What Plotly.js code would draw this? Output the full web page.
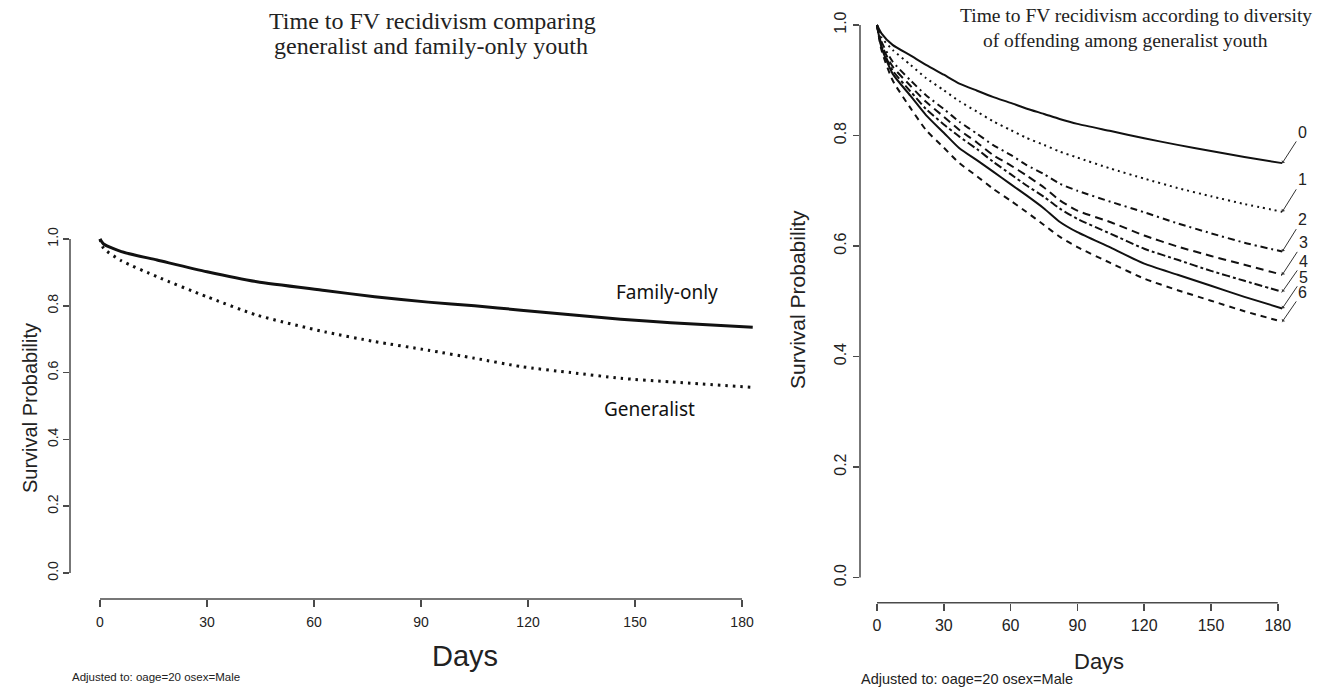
<!DOCTYPE html>
<html><head><meta charset="utf-8">
<script src="https://cdn.plot.ly/plotly-3.0.1.min.js"></script>
<style>html,body{margin:0;padding:0;background:#fff}</style>
</head><body><div id="chart" style="width:1317px;height:687px"></div>
<script>
// ---- Data ----
const leftDays   = [0, 1, 6, 16, 30, 44, 63, 77, 92, 105, 118, 132, 146, 160, 183];
const familyOnly = [1.0, 0.985, 0.962, 0.937, 0.902, 0.872, 0.846, 0.827, 0.811, 0.800, 0.787, 0.773, 0.760, 0.749, 0.736];
const generalist = [1.0, 0.972, 0.935, 0.887, 0.827, 0.772, 0.722, 0.693, 0.667, 0.643, 0.618, 0.600, 0.583, 0.572, 0.556];

const rightDays  = [0, 2, 7, 15, 22, 30, 37, 45, 52, 60, 67, 75, 82, 90, 105, 120, 135, 150, 165, 182];
const diversity0 = [1.0, 0.985, 0.964, 0.945, 0.928, 0.910, 0.894, 0.881, 0.870, 0.859, 0.849, 0.839, 0.830, 0.821, 0.808, 0.795, 0.783, 0.772, 0.761, 0.750];
const diversity1 = [1.0, 0.978, 0.955, 0.928, 0.904, 0.882, 0.862, 0.843, 0.826, 0.810, 0.796, 0.783, 0.771, 0.760, 0.740, 0.722, 0.705, 0.690, 0.676, 0.662];
const diversity2 = [1.0, 0.970, 0.934, 0.900, 0.873, 0.848, 0.825, 0.803, 0.783, 0.765, 0.747, 0.730, 0.713, 0.700, 0.680, 0.661, 0.641, 0.623, 0.606, 0.590];
const diversity3 = [1.0, 0.965, 0.925, 0.890, 0.861, 0.834, 0.810, 0.787, 0.765, 0.746, 0.728, 0.706, 0.683, 0.664, 0.643, 0.619, 0.599, 0.582, 0.566, 0.548];
const diversity4 = [1.0, 0.962, 0.918, 0.880, 0.848, 0.820, 0.798, 0.775, 0.753, 0.730, 0.710, 0.689, 0.668, 0.649, 0.622, 0.595, 0.575, 0.555, 0.537, 0.517];
const diversity5 = [1.0, 0.960, 0.912, 0.872, 0.837, 0.805, 0.777, 0.755, 0.735, 0.712, 0.692, 0.668, 0.644, 0.625, 0.597, 0.568, 0.548, 0.528, 0.508, 0.487];
const diversity6 = [1.0, 0.955, 0.900, 0.850, 0.810, 0.778, 0.750, 0.726, 0.704, 0.682, 0.662, 0.638, 0.617, 0.598, 0.569, 0.541, 0.520, 0.501, 0.482, 0.463];
const diversityLabels = ['0', '1', '2', '3', '4', '5', '6'];

const xTicks = [0, 30, 60, 90, 120, 150, 180];
const yTicks = [0, 0.2, 0.4, 0.6, 0.8, 1.0];
const yTickText = ['0.0', '0.2', '0.4', '0.6', '0.8', '1.0'];

// ---- Layout helpers ----
const W = 1317, H = 687;
const px = v => v / W;
const py = v => 1 - v / H;
const INK = '#111';
const AX = '#4a4a4a';
const SANS = '"Liberation Sans", Arial, sans-serif';
const SERIF = '"Liberation Serif", "Times New Roman", serif';

const diversitySeries = [diversity0, diversity1, diversity2, diversity3, diversity4, diversity5, diversity6];
const diversityDash = ['solid', '2px,4px', '7px,4px,2px,4px', '8px,5px', '8px,3px,3px,3px', 'solid', '6px,5px'];
const labelOffsets = [[20, -31], [20, -32], [20, -32], [21, -32], [21, -30], [21, -31], [20, -29]];

const traces = [
  {x: leftDays, y: familyOnly, xaxis: 'x', yaxis: 'y', mode: 'lines', name: 'Family-only',
   line: {color: INK, width: 3, shape: 'spline', smoothing: 0.6}},
  {x: leftDays, y: generalist, xaxis: 'x', yaxis: 'y', mode: 'lines', name: 'Generalist',
   line: {color: INK, width: 3, dash: '2.5px,5px', shape: 'spline', smoothing: 0.6}}
];
diversitySeries.forEach((s, i) => {
  traces.push({x: rightDays, y: s, xaxis: 'x2', yaxis: 'y2', mode: 'lines', name: diversityLabels[i],
    line: {color: INK, width: 2, dash: diversityDash[i], shape: 'spline', smoothing: 0.6}});
});

function xAxis(domain, range, fontSize, standoff) {
  return {domain, range, showline: false, zeroline: false, showgrid: false,
    ticks: 'outside', ticklen: 7, tickwidth: 1.5, tickcolor: AX,
    tickvals: xTicks, ticktext: xTicks.map(String),
    tickfont: {family: SANS, size: fontSize, color: '#222'}, ticklabelstandoff: standoff,
    fixedrange: true};
}
function yAxis(domain, range, fontSize, standoff) {
  return {domain, range, showline: false, zeroline: false, showgrid: false,
    ticks: 'outside', ticklen: 6, tickwidth: 1.5, tickcolor: AX,
    tickvals: yTicks, ticktext: yTickText, tickangle: -90,
    tickfont: {family: SANS, size: fontSize, color: '#222'}, ticklabelstandoff: standoff,
    fixedrange: true};
}

function paperText(text, x, y, size, family, extra) {
  return Object.assign({text, x: px(x), y: py(y), xref: 'paper', yref: 'paper', showarrow: false,
    xanchor: 'center', yanchor: 'middle', font: {family, size, color: '#222'}}, extra || {});
}

const annotations = [
  paperText('Time to FV recidivism comparing', 432, 21, 24, SERIF),
  paperText('generalist and family-only youth', 431, 46, 24, SERIF),
  paperText('Time to FV recidivism according to diversity', 1136, 16, 19.5, SERIF),
  paperText('of offending among generalist youth', 1125, 41, 19.5, SERIF),
  paperText('Survival Probability', 30, 408, 20, SANS, {textangle: -90}),
  paperText('Survival Probability', 797, 300, 21, SANS, {textangle: -90}),
  paperText('Days', 465, 656, 29, SANS),
  paperText('Days', 1099, 661, 22, SANS),
  paperText('Adjusted to: oage=20 osex=Male', 70, 677, 11.5, SANS, {xanchor: 'left'}),
  paperText('Adjusted to: oage=20 osex=Male', 859, 679, 14.5, SANS, {xanchor: 'left'}),
  {text: 'Family-only', x: 183, y: familyOnly[familyOnly.length - 1], xref: 'x', yref: 'y', showarrow: false,
   xanchor: 'center', yanchor: 'middle',
   xshift: -86, yshift: 35, font: {family: '"Noto Sans", sans-serif', size: 19, color: '#111'}},
  {text: 'Generalist', x: 183, y: generalist[generalist.length - 1], xref: 'x', yref: 'y', showarrow: false,
   xanchor: 'center', yanchor: 'middle',
   xshift: -103, yshift: -22, font: {family: '"Noto Sans", sans-serif', size: 19, color: '#111'}}
];
diversitySeries.forEach((s, i) => {
  annotations.push({text: diversityLabels[i], x: rightDays[rightDays.length - 1], y: s[s.length - 1],
    xref: 'x2', yref: 'y2', showarrow: true, ax: labelOffsets[i][0], ay: labelOffsets[i][1],
    arrowhead: 1, arrowsize: 0.7, arrowwidth: 1, arrowcolor: '#333', standoff: 0, startstandoff: 0,
    font: {family: SANS, size: 16, color: '#222'}});
});

const axLine = {color: AX, width: 1.5};
const shapes = [
  {type: 'line', xref: 'x', yref: 'y domain', x0: 0, x1: 180, y0: 0, y1: 0, line: axLine},
  {type: 'line', xref: 'x domain', yref: 'y', x0: 0, x1: 0, y0: 0, y1: 1, line: axLine},
  {type: 'line', xref: 'x2', yref: 'y2 domain', x0: 0, x1: 180, y0: 0, y1: 0, line: axLine},
  {type: 'line', xref: 'x2 domain', yref: 'y2', x0: 0, x1: 0, y0: 0, y1: 1, line: axLine}
];

const layout = {
  width: W, height: H, margin: {l: 0, r: 0, t: 0, b: 0},
  paper_bgcolor: '#fff', plot_bgcolor: 'rgba(0,0,0,0)', showlegend: false,
  xaxis: Object.assign(xAxis([px(70), px(770)], [-8.41, 187.84], 14, 3), {anchor: 'y'}),
  yaxis: Object.assign(yAxis([py(599), py(225)], [-0.0778, 1.0419], 14, -1), {anchor: 'x'}),
  xaxis2: Object.assign(xAxis([px(860), px(1300)], [-7.63, 189.97], 16, 1), {anchor: 'y2'}),
  yaxis2: Object.assign(yAxis([py(602.7), py(15)], [-0.0456, 1.0181], 16, 1), {anchor: 'x2'}),
  shapes, annotations
};

Plotly.newPlot('chart', traces, layout, {displayModeBar: false, staticPlot: true});
</script></body></html>
